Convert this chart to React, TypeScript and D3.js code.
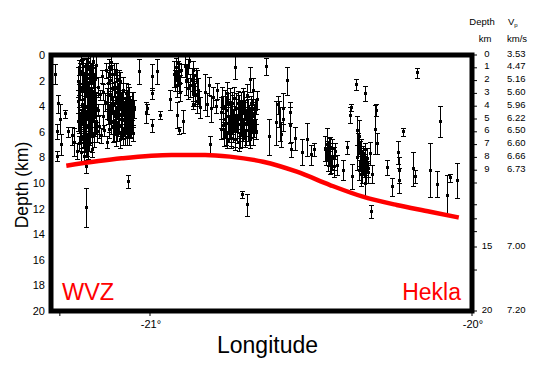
import React from "react";
import * as d3 from "d3";

// ---------- data ----------
const lonDomain: [number, number] = [-21.3075, -20];
const depthDomain: [number, number] = [0, 20];

const depthTicks = [0, 2, 4, 6, 8, 10, 12, 14, 16, 18, 20];
const lonTicks = [-21.28, -21, -20];
const lonTickLabels = ["", "-21°", "-20°"];

const modelDepths = [0, 1, 2, 3, 4, 5, 6, 7, 8, 9, 15, 20];
const modelVp = ["3.53", "4.47", "5.16", "5.60", "5.96", "6.22", "6.50", "6.60", "6.66", "6.73", "7.00", "7.20"];
const modelTicks = [0, 1, 2, 3, 4, 5, 6, 7, 8, 9, 10, 11.7, 12.8, 13.8, 15, 16.8, 20];

const mohoLon = [-21.26, -21.088, -20.933, -20.829, -20.752, -20.649, -20.544, -20.441, -20.339, -20.234, -20.13, -20.041];
const mohoDepth = [8.65, 8.07, 7.81, 7.81, 7.94, 8.34, 9.12, 10.16, 11.07, 11.72, 12.24, 12.7];

// [longitude, depth km, error km]
const wvzEvents: [number, number, number][] = [
  [-21.295, 1.5, 0.8], [-21.285, 3.8, 0.7], [-21.28, 5.0, 1.2], [-21.29, 6.0, 0.6],
  [-21.265, 4.6, 0.3], [-21.255, 6.0, 0.4], [-21.275, 7.0, 0.8], [-21.29, 7.9, 0.4],
  [-21.242, 6.3, 0.7], [-21.235, 6.8, 1.1], [-21.228, 7.5, 0.6],
  [-21.225, 2.1, 1.2], [-21.222, 4.6, 1.5], [-21.22, 3.2, 0.9], [-21.218, 5.8, 1.1],
  [-21.216, 1.4, 0.8], [-21.214, 6.6, 0.7], [-21.212, 2.8, 1.3], [-21.211, 4.0, 0.6],
  [-21.209, 5.1, 1.0], [-21.208, 0.9, 0.7], [-21.206, 3.5, 1.6], [-21.205, 6.1, 1.4],
  [-21.203, 2.3, 0.5], [-21.202, 4.4, 1.2], [-21.2, 1.6, 1.3], [-21.199, 5.5, 0.8],
  [-21.197, 3.0, 1.1], [-21.196, 7.0, 0.9], [-21.194, 0.6, 0.6], [-21.193, 4.8, 1.5],
  [-21.191, 2.6, 0.9], [-21.19, 3.9, 1.8], [-21.188, 5.9, 1.0], [-21.187, 1.2, 1.1],
  [-21.185, 3.3, 0.7], [-21.184, 4.3, 1.3], [-21.182, 2.0, 1.4], [-21.181, 5.2, 0.9],
  [-21.179, 6.4, 1.2], [-21.178, 3.7, 1.0], [-21.176, 1.8, 0.8], [-21.175, 4.9, 1.1],
  [-21.173, 2.9, 1.5], [-21.172, 5.7, 0.6], [-21.17, 3.4, 0.9], [-21.169, 0.8, 1.0],
  [-21.167, 4.2, 1.3], [-21.166, 6.0, 0.8], [-21.221, 6.9, 0.6], [-21.215, 0.4, 0.3],
  [-21.198, 7.5, 0.5], [-21.207, 1.9, 1.0], [-21.189, 6.8, 0.7], [-21.177, 0.5, 0.4],
  [-21.195, 2.4, 0.6], [-21.183, 3.6, 0.5], [-21.201, 5.3, 0.6], [-21.21, 4.7, 0.8],
  [-21.201, 4.1, 3.5], [-21.205, 7.9, 0.6], [-21.199, 8.7, 0.5], [-21.199, 11.9, 1.5],
  [-21.162, 2.5, 0.8], [-21.16, 4.3, 0.5], [-21.158, 5.6, 0.9], [-21.155, 3.1, 0.4],
  [-21.152, 6.3, 0.6], [-21.15, 1.7, 0.5], [-21.147, 4.8, 1.0], [-21.145, 2.9, 0.6],
  [-21.142, 5.9, 0.4], [-21.14, 3.7, 0.7], [-21.137, 1.2, 0.6], [-21.135, 6.8, 0.5],
  [-21.133, 3.8, 1.2], [-21.13, 2.2, 0.9], [-21.128, 5.0, 1.0], [-21.126, 1.0, 0.7],
  [-21.124, 3.1, 1.4], [-21.122, 4.5, 0.8], [-21.12, 0.6, 0.5], [-21.118, 2.6, 1.1],
  [-21.116, 5.6, 1.2], [-21.114, 3.9, 0.7], [-21.112, 1.5, 0.9], [-21.11, 4.8, 1.3],
  [-21.108, 2.9, 0.8], [-21.106, 6.2, 0.9], [-21.104, 3.5, 1.5], [-21.102, 1.9, 0.6],
  [-21.1, 5.3, 1.0], [-21.098, 4.1, 0.9], [-21.096, 2.4, 1.2], [-21.094, 6.6, 0.7],
  [-21.092, 3.2, 1.0], [-21.09, 4.7, 1.4], [-21.088, 5.8, 0.8], [-21.086, 3.6, 0.9],
  [-21.084, 2.8, 1.1], [-21.082, 5.1, 1.2], [-21.08, 4.3, 0.7], [-21.078, 6.0, 1.0],
  [-21.076, 3.0, 0.8], [-21.074, 4.9, 1.3], [-21.072, 3.7, 1.0], [-21.07, 5.5, 0.9],
  [-21.068, 4.0, 1.5], [-21.066, 6.4, 0.6], [-21.064, 3.3, 0.8], [-21.062, 5.0, 1.1],
  [-21.06, 4.4, 0.9], [-21.058, 5.7, 0.7], [-21.056, 3.9, 1.0], [-21.054, 4.8, 0.8],
  [-21.052, 6.1, 0.6], [-21.05, 4.2, 0.7], [-21.069, 9.9, 0.5],
  [-21.034, 1.3, 1.0], [-21.012, 4.5, 0.8], [-20.994, 3.0, 0.4], [-20.994, 5.5, 0.5],
  [-20.978, 1.3, 1.0], [-21.01, 4.2, 0.4], [-20.994, 1.7, 1.0], [-20.969, 4.7, 0.3],
];

// denser cores of the two WVZ swarms
const wvzSwarmEvents: [number, number, number][] = [
  [-21.224, 3.6, 0.9], [-21.223, 5.2, 0.7], [-21.219, 1.0, 0.6], [-21.217, 2.5, 1.0],
  [-21.213, 5.4, 1.2], [-21.212, 3.9, 0.4], [-21.21, 1.3, 0.9], [-21.208, 6.4, 0.8],
  [-21.206, 2.0, 0.7], [-21.204, 4.9, 0.9], [-21.203, 3.1, 1.2], [-21.2, 6.7, 0.6],
  [-21.198, 2.2, 0.8], [-21.197, 4.5, 0.6], [-21.195, 1.1, 0.9], [-21.194, 3.6, 1.0],
  [-21.192, 5.7, 1.2], [-21.19, 2.8, 0.5], [-21.188, 1.5, 0.7], [-21.187, 4.7, 0.9],
  [-21.186, 6.2, 0.8], [-21.184, 2.6, 0.9], [-21.182, 5.6, 0.6], [-21.18, 3.9, 1.1],
  [-21.179, 1.4, 0.8], [-21.177, 4.4, 0.7], [-21.175, 2.3, 0.6], [-21.174, 6.2, 1.0],
  [-21.172, 3.9, 0.8], [-21.17, 1.9, 1.1], [-21.168, 5.3, 0.9], [-21.192, 7.2, 0.9],
  [-21.213, 7.6, 0.8], [-21.18, 7.4, 0.6],
  [-21.132, 4.6, 0.8], [-21.129, 3.2, 1.0], [-21.127, 5.8, 0.7], [-21.125, 2.0, 0.8],
  [-21.123, 4.0, 1.2], [-21.121, 5.3, 0.9], [-21.119, 1.5, 0.7], [-21.117, 3.4, 0.9],
  [-21.115, 4.6, 1.1], [-21.113, 2.7, 0.6], [-21.111, 5.9, 0.8], [-21.109, 3.8, 1.2],
  [-21.107, 1.2, 0.6], [-21.105, 4.9, 0.9], [-21.103, 2.6, 1.0], [-21.101, 6.0, 0.7],
  [-21.099, 3.4, 0.8], [-21.097, 5.0, 1.2], [-21.095, 4.2, 0.6], [-21.093, 2.1, 0.8],
  [-21.091, 5.6, 0.9], [-21.089, 3.9, 1.0], [-21.087, 4.6, 0.8], [-21.085, 6.3, 0.7],
  [-21.083, 3.4, 1.2], [-21.081, 4.7, 0.9], [-21.079, 5.5, 1.0], [-21.077, 4.0, 0.7],
  [-21.075, 3.8, 0.9], [-21.073, 5.9, 1.1], [-21.071, 4.5, 0.8], [-21.069, 3.2, 0.9],
  [-21.067, 5.2, 1.0], [-21.065, 4.6, 1.2], [-21.063, 3.9, 0.7], [-21.061, 5.6, 0.9],
  [-21.059, 4.9, 1.1], [-21.057, 4.3, 0.8], [-21.055, 5.3, 0.9], [-21.053, 3.6, 0.7],
];

const centralEvents: [number, number, number][] = [
  [-20.938, 3.5, 0.8], [-20.925, 1.5, 1.0], [-20.918, 1.0, 0.8], [-20.915, 2.4, 0.9],
  [-20.912, 0.7, 0.6], [-20.91, 1.8, 1.2], [-20.907, 2.9, 0.7], [-20.904, 1.2, 0.5],
  [-20.89, 0.8, 0.9], [-20.887, 2.0, 1.1], [-20.884, 1.4, 0.7], [-20.881, 2.6, 0.8],
  [-20.878, 0.5, 0.5], [-20.87, 1.9, 0.9], [-20.866, 3.0, 1.0], [-20.862, 2.3, 0.8],
  [-20.858, 1.6, 0.6], [-20.855, 3.6, 0.9], [-20.85, 2.8, 1.0], [-20.846, 4.1, 0.8],
  [-20.922, 2.0, 0.8], [-20.913, 1.4, 0.9], [-20.906, 2.2, 0.6], [-20.889, 1.7, 0.8],
  [-20.883, 0.9, 0.6], [-20.876, 2.4, 0.9], [-20.868, 1.2, 0.7], [-20.86, 3.2, 0.8],
  [-20.853, 2.1, 0.9], [-20.848, 3.4, 0.6],
  [-20.916, 4.7, 1.0], [-20.91, 5.9, 0.3], [-20.898, 5.2, 0.9], [-20.866, 3.9, 0.3],
  [-20.828, 2.9, 1.4], [-20.822, 3.9, 0.9], [-20.816, 2.4, 0.7], [-20.81, 4.2, 1.0],
  [-20.804, 3.3, 0.8], [-20.796, 4.0, 0.5], [-20.792, 2.8, 0.6], [-20.813, 7.0, 0.7],
  [-20.78, 4.5, 1.2], [-20.776, 3.3, 0.8], [-20.772, 5.5, 1.0], [-20.768, 4.0, 1.3],
  [-20.765, 6.1, 0.9], [-20.762, 3.0, 0.9], [-20.758, 4.8, 1.4], [-20.755, 5.8, 1.0],
  [-20.752, 3.7, 1.1], [-20.749, 6.5, 0.8], [-20.746, 4.4, 1.5], [-20.743, 5.2, 1.0],
  [-20.74, 3.4, 0.9], [-20.737, 6.0, 1.2], [-20.734, 4.7, 1.3], [-20.731, 5.6, 0.9],
  [-20.728, 3.8, 1.0], [-20.725, 6.8, 0.7], [-20.722, 4.9, 1.4], [-20.719, 5.4, 1.1],
  [-20.716, 4.1, 1.2], [-20.713, 6.3, 0.9], [-20.71, 3.6, 1.0], [-20.707, 5.0, 1.3],
  [-20.704, 4.3, 0.8], [-20.701, 5.9, 1.1], [-20.698, 3.2, 0.9], [-20.695, 4.6, 1.2],
  [-20.692, 6.2, 0.8], [-20.689, 5.1, 1.0], [-20.686, 3.9, 0.7], [-20.683, 4.8, 1.1],
  [-20.68, 2.8, 1.0], [-20.677, 5.5, 0.9], [-20.674, 4.2, 0.8], [-20.67, 6.0, 0.6],
  [-20.667, 3.5, 0.7], [-20.735, 1.0, 0.9], [-20.688, 1.9, 1.0],
  [-20.714, 10.9, 0.3], [-20.699, 11.7, 0.85],
  [-20.639, 0.9, 0.7], [-20.63, 6.4, 1.4], [-20.608, 5.3, 1.7],
];

// denser core of the central swarm
const centralSwarmEvents: [number, number, number][] = [
  [-20.778, 5.8, 0.8], [-20.774, 4.2, 1.0], [-20.77, 6.4, 0.7], [-20.767, 5.0, 0.9],
  [-20.763, 4.3, 1.1], [-20.76, 6.7, 0.6], [-20.757, 3.9, 0.9], [-20.753, 5.3, 1.2],
  [-20.75, 4.6, 0.8], [-20.747, 6.1, 1.0], [-20.744, 3.8, 0.7], [-20.741, 5.7, 1.1],
  [-20.738, 4.9, 0.9], [-20.735, 6.6, 0.8], [-20.732, 4.2, 1.2], [-20.729, 5.9, 1.0],
  [-20.726, 5.0, 0.8], [-20.723, 4.0, 0.9], [-20.72, 6.2, 1.1], [-20.717, 5.3, 0.7],
  [-20.714, 4.6, 1.0], [-20.711, 5.8, 0.9], [-20.708, 4.0, 1.2], [-20.705, 6.5, 0.7],
  [-20.702, 5.4, 0.9], [-20.699, 4.4, 1.1], [-20.696, 5.9, 0.8], [-20.693, 4.9, 1.0],
  [-20.69, 6.6, 0.7], [-20.687, 5.6, 0.9], [-20.684, 4.2, 0.8], [-20.681, 6.0, 1.0],
  [-20.678, 4.6, 0.7], [-20.675, 5.2, 0.9], [-20.672, 4.0, 0.6],
];

const heklaEvents: [number, number, number][] = [
  [-20.574, 2.0, 1.1], [-20.602, 3.9, 0.7], [-20.598, 4.6, 1.0], [-20.595, 5.4, 1.3],
  [-20.592, 6.2, 1.0], [-20.588, 5.0, 0.9], [-20.586, 4.2, 1.2], [-20.566, 4.5, 0.8],
  [-20.564, 5.5, 1.4], [-20.562, 7.4, 0.6], [-20.55, 6.5, 0.9], [-20.528, 7.6, 1.0],
  [-20.513, 6.6, 1.3], [-20.5, 7.8, 0.8], [-20.492, 7.4, 0.5],
  [-20.456, 7.3, 1.0], [-20.452, 7.9, 0.7], [-20.449, 7.0, 1.3], [-20.446, 8.2, 0.9],
  [-20.443, 7.6, 1.1], [-20.44, 7.2, 0.8], [-20.437, 8.5, 0.7], [-20.434, 7.9, 1.0],
  [-20.43, 8.7, 0.8], [-20.425, 7.5, 0.6], [-20.418, 8.6, 0.8], [-20.4, 9.0, 0.8],
  [-20.454, 8.0, 0.6], [-20.447, 7.5, 0.8], [-20.441, 8.4, 0.9], [-20.436, 7.3, 0.7],
  [-20.428, 8.1, 0.9],
  [-20.387, 7.2, 0.5], [-20.38, 4.7, 0.6], [-20.376, 4.1, 0.3], [-20.372, 9.5, 1.0],
  [-20.36, 2.3, 0.4], [-20.356, 5.9, 1.1], [-20.353, 7.0, 0.9], [-20.35, 6.4, 1.3],
  [-20.347, 8.3, 0.7], [-20.345, 9.3, 0.9], [-20.343, 8.8, 1.2], [-20.349, 7.7, 1.0],
  [-20.358, 8.0, 1.0], [-20.352, 9.0, 0.8], [-20.346, 7.5, 0.9], [-20.338, 8.3, 1.0],
  [-20.331, 8.7, 0.7], [-20.324, 9.2, 0.8],
  [-20.332, 3.0, 0.6], [-20.301, 5.8, 1.9], [-20.297, 4.3, 0.5], [-20.295, 6.9, 0.8],
  [-20.34, 7.8, 0.7], [-20.336, 8.6, 0.9], [-20.333, 7.4, 0.5], [-20.329, 9.0, 1.0],
  [-20.326, 8.1, 0.8], [-20.322, 8.9, 0.6], [-20.318, 7.7, 0.9], [-20.312, 9.3, 0.7],
  [-20.264, 8.8, 0.6], [-20.23, 7.6, 0.9], [-20.226, 9.0, 1.0], [-20.214, 6.0, 0.3],
  [-20.183, 8.9, 1.3], [-20.17, 1.4, 0.4], [-20.13, 9.0, 2.1], [-20.099, 5.2, 1.2],
  [-20.078, 11.0, 1.6], [-20.047, 9.8, 1.4], [-20.109, 10.1, 1.0], [-20.069, 9.6, 0.3],
  [-20.249, 10.3, 0.7], [-20.332, 10.0, 1.0], [-20.227, 9.8, 1.0], [-20.177, 9.5, 0.5],
  [-20.314, 12.2, 0.5],
];

const FONT = "'Liberation Sans', Arial, Helvetica, sans-serif";

export default function App() {
  const x = d3.scaleLinear().domain(lonDomain).range([51, 472]);
  const y = d3.scaleLinear().domain(depthDomain).range([55, 311]);
  const events = [...wvzEvents, ...wvzSwarmEvents, ...centralEvents, ...centralSwarmEvents, ...heklaEvents];

  const moho = d3
    .line<number>()
    .x((_, i) => x(mohoLon[i]))
    .y((d) => y(d))
    .curve(d3.curveMonotoneX)(mohoDepth);

  const [x0, x1] = x.range();
  const [y0, y1] = y.range();

  return (
    <svg
      width={556}
      height={371}
      style={{ position: "absolute", left: 0, top: 0, background: "#fff" }}
      fontFamily={FONT}
    >
      <defs>
        <clipPath id="plotclip">
          <rect x={x0} y={y0} width={x1 - x0} height={y1 - y0} />
        </clipPath>
      </defs>

      <g clipPath="url(#plotclip)" shapeRendering="crispEdges">
        {events.map((e, i) => {
          const cx = Math.round(x(e[0])) + 0.5;
          const ya = y(e[1] - e[2]);
          const yb = y(e[1] + e[2]);
          return (
            <g key={i} stroke="#000" strokeWidth={1}>
              <line x1={cx} x2={cx} y1={ya} y2={yb} />
              <line x1={cx - 2.5} x2={cx + 2.5} y1={Math.round(ya) + 0.5} y2={Math.round(ya) + 0.5} />
              <line x1={cx - 2.5} x2={cx + 2.5} y1={Math.round(yb) + 0.5} y2={Math.round(yb) + 0.5} />
              <rect x={cx - 1.5} y={y(e[1]) - 1.5} width={3} height={3} fill="#000" stroke="none" />
            </g>
          );
        })}
      </g>

      <path d={moho ?? ""} fill="none" stroke="#ff0000" strokeWidth={4.5} />

      {/* frame */}
      <rect x={x0} y={y0} width={x1 - x0} height={y1 - y0} fill="none" stroke="#000" strokeWidth={5} />

      {/* left axis labels */}
      {depthTicks.map((d) => (
        <text key={"l" + d} x={45} y={y(d) + 4} fontSize={11} textAnchor="end" fill="#000">
          {d}
        </text>
      ))}

      {/* bottom axis */}
      {lonTicks.map((l, i) => (
        <g key={"b" + i}>
          <line x1={x(l)} x2={x(l)} y1={y1 + 2} y2={y1 + 5} stroke="#000" strokeWidth={1} />
          {lonTickLabels[i] && (
            <text x={x(l) + 1} y={328} fontSize={11} textAnchor="middle" fill="#000">
              {lonTickLabels[i]}
            </text>
          )}
        </g>
      ))}

      {/* right velocity model */}
      {modelTicks.map((d, i) => (
        <line key={"rt" + i} x1={x1 + 2} x2={x1 + 5} y1={y(d)} y2={y(d)} stroke="#000" strokeWidth={1} />
      ))}
      {modelDepths.map((d, i) => (
        <g key={"m" + i}>
          <text x={487} y={y(d) + 1.5} fontSize={9.5} textAnchor="middle" fill="#000">
            {d}
          </text>
          <text x={507} y={y(d) + 1.5} fontSize={9.5} fill="#000">
            {modelVp[i]}
          </text>
        </g>
      ))}
      <text x={482} y={25} fontSize={9.5} textAnchor="middle" fill="#000">Depth</text>
      <text x={485} y={42} fontSize={9.5} textAnchor="middle" fill="#000">km</text>
      <text x={508} y={25} fontSize={9.5} fill="#000">
        V<tspan fontSize={6} dy={2}>p</tspan>
      </text>
      <text x={507} y={42} fontSize={9.5} fill="#000">km/s</text>

      {/* axis titles */}
      <text x={267.5} y={353} fontSize={23} textAnchor="middle" fill="#000">Longitude</text>
      <text transform="translate(28,185) rotate(-90)" fontSize={17.5} textAnchor="middle" fill="#000">
        Depth (km)
      </text>

      {/* region labels */}
      <text x={62} y={300} fontSize={23.5} fill="#ff0000">WVZ</text>
      <text x={461} y={300} fontSize={23} textAnchor="end" fill="#ff0000">Hekla</text>
    </svg>
  );
}
